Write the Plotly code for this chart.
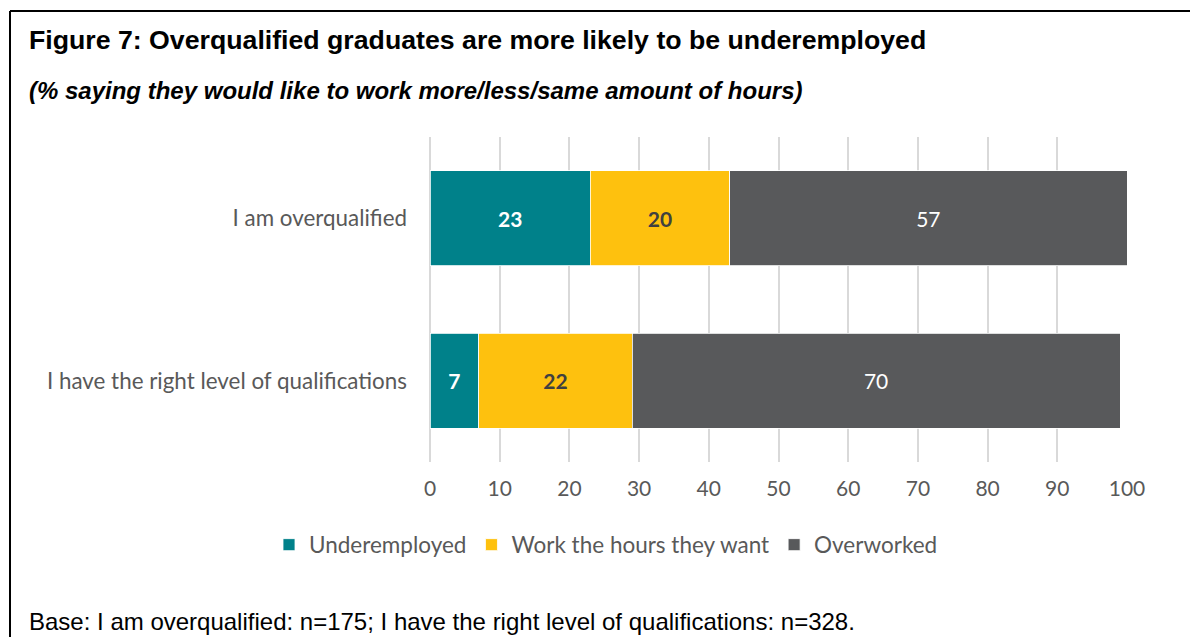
import plotly.graph_objects as go

# Survey responses by self-assessed qualification level (%)
categories = ["I am overqualified", "I have the right level of qualifications"]
underemployed = [23, 7]
work_hours_wanted = [20, 22]
overworked = [57, 70]
x_ticks = [0, 10, 20, 30, 40, 50, 60, 70, 80, 90, 100]

TEAL = "#00818A"
YELLOW = "#FEC10E"
GREY = "#58595B"
AXIS_FONT = "Lato"

W, H = 1190, 637
L, R, T, B = 430, 63, 137, 175
pw, ph = W - L - R, H - T - B


def px_x(px):
    return (px - L) / pw


def px_y(py):
    return (H - B - py) / ph


fig = go.Figure()

series = [
    ("Underemployed", underemployed, TEAL, "white", "bold"),
    ("Work the hours they want", work_hours_wanted, YELLOW, "#404040", "bold"),
    ("Overworked", overworked, GREY, "white", "normal"),
]
for name, vals, color, tcolor, weight in series:
    fig.add_trace(go.Bar(
        y=categories,
        x=vals,
        name=name,
        orientation="h",
        marker=dict(color=color, line=dict(color="white", width=0.8)),
        text=vals,
        texttemplate="%{text}",
        textposition="inside",
        insidetextanchor="middle",
        textfont=dict(family=AXIS_FONT, size=21, color=tcolor, weight=weight),
        hoverinfo="skip",
    ))

# Frame lines around the figure (top and left edges)
fig.add_shape(type="line", xref="paper", yref="paper",
              x0=px_x(10), x1=px_x(1200), y0=px_y(11), y1=px_y(11),
              line=dict(color="black", width=2))
fig.add_shape(type="line", xref="paper", yref="paper",
              x0=px_x(10), x1=px_x(10), y0=px_y(11), y1=px_y(660),
              line=dict(color="black", width=2))

fig.add_annotation(text="<b>Figure 7: Overqualified graduates are more likely to be underemployed</b>",
                   xref="paper", yref="paper", x=px_x(27), y=px_y(40),
                   xanchor="left", yanchor="middle", showarrow=False,
                   font=dict(family="Liberation Sans", size=26.7, color="black"))
fig.add_annotation(text="<b><i>(% saying they would like to work more/less/same amount of hours)</i></b>",
                   xref="paper", yref="paper", x=px_x(27), y=px_y(91),
                   xanchor="left", yanchor="middle", showarrow=False,
                   font=dict(family="Liberation Sans", size=24, color="black"))
fig.add_annotation(text="Base: I am overqualified: n=175; I have the right level of qualifications: n=328.",
                   xref="paper", yref="paper", x=px_x(27), y=px_y(621),
                   xanchor="left", yanchor="middle", showarrow=False,
                   font=dict(family="Liberation Sans", size=24, color="black"))

fig.update_layout(
    width=W, height=H,
    margin=dict(l=L, r=R, t=T, b=B),
    barmode="stack",
    bargap=0.415,
    plot_bgcolor="white",
    paper_bgcolor="white",
    showlegend=True,
    legend=dict(orientation="h", x=px_x(606), y=px_y(545),
                xanchor="center", yanchor="middle",
                font=dict(family=AXIS_FONT, size=22.5, color="#595959"),
                traceorder="normal"),
    xaxis=dict(range=[0, 100], tickvals=x_ticks, showgrid=True,
               gridcolor="#D9D9D9", gridwidth=2, zeroline=True,
               zerolinecolor="#D9D9D9", zerolinewidth=2,
               showline=False, ticks="", ticklabelstandoff=12,
               tickfont=dict(family=AXIS_FONT, size=21, color="#595959")),
    yaxis=dict(categoryorder="array", categoryarray=categories,
               autorange="reversed", showgrid=False, ticks="",
               ticklabelstandoff=22,
               tickfont=dict(family=AXIS_FONT, size=22.4, color="#595959")),
)

fig.write_html("out.html")
